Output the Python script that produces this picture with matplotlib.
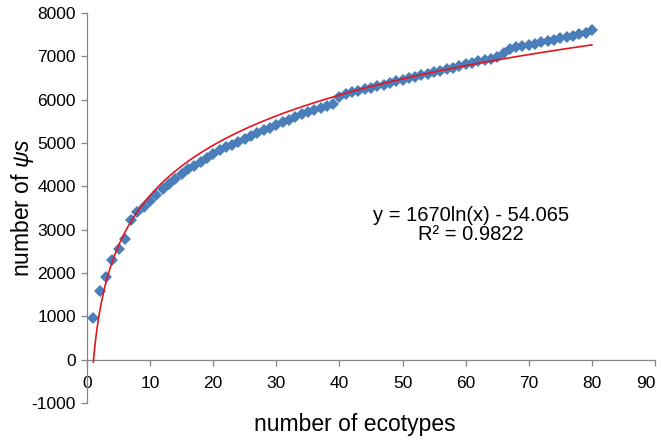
import matplotlib
matplotlib.use("Agg")
import matplotlib.pyplot as plt
import matplotlib.transforms as mtransforms
import numpy as np

plt.rcParams['font.family'] = ['Liberation Sans', 'DejaVu Sans']
plt.rcParams['mathtext.fontset'] = 'custom'
plt.rcParams['mathtext.rm'] = 'Liberation Sans'
plt.rcParams['mathtext.it'] = 'Liberation Sans:italic'
plt.rcParams['axes.unicode_minus'] = False

# number of ecotypes
ecotypes = list(range(1, 81))
# number of psi-s
psis = [960, 1585, 1910, 2290, 2560, 2790, 3225, 3400, 3530, 3660,
        3800, 3930, 4060, 4180, 4290, 4390, 4480, 4570, 4660, 4750,
        4830, 4900, 4960, 5020, 5090, 5150, 5220, 5290, 5350, 5420,
        5480, 5540, 5600, 5660, 5710, 5760, 5810, 5860, 5900, 6070,
        6130, 6170, 6205, 6240, 6275, 6310, 6345, 6385, 6420, 6460,
        6495, 6530, 6565, 6600, 6635, 6670, 6705, 6740, 6785, 6825,
        6855, 6885, 6915, 6945, 6975, 7070, 7170, 7205, 7235, 7265,
        7295, 7325, 7355, 7385, 7415, 7445, 7475, 7510, 7545, 7600]

# logarithmic trendline coefficients
fit_a = 1670.0
fit_b = -54.065
eq_text = "y = 1670ln(x) - 54.065\nR\u00b2 = 0.9822"

x_ticks = list(range(0, 91, 10))
y_ticks = list(range(-1000, 8001, 1000))

fig = plt.figure(figsize=(6.62, 4.42), dpi=100)
ax = fig.add_axes([87/662, 1-403/442, (655-87)/662, (403-13)/442])

gray = '#868686'
ax.plot(ecotypes, psis, linestyle='none', marker='D', markersize=6,
        color='#4A7EBB', markeredgewidth=0, zorder=2)

xf = np.linspace(ecotypes[0], ecotypes[-1], 400)
ax.plot(xf, fit_a*np.log(xf) + fit_b, color='#E3161D', linewidth=1.2, zorder=3)

ax.set_xlim(0, 90)
ax.set_ylim(-1000, 8000)
ax.set_xticks(x_ticks)
ax.set_yticks(y_ticks)

ax.spines['top'].set_visible(False)
ax.spines['right'].set_visible(False)
ax.spines['bottom'].set_position(('data', 0))
for s in ('left', 'bottom'):
    ax.spines[s].set_color(gray)
    ax.spines[s].set_linewidth(0.9)
ax.tick_params(axis='both', colors=gray, labelcolor='black', labelsize=12.5,
               length=4, width=0.9, direction='out')
ax.tick_params(axis='x', pad=8)
ax.tick_params(axis='y', pad=4)

# shift the last x tick label left so it stays inside the figure
last_lbl = ax.xaxis.get_major_ticks()[-1].label1
last_lbl.set_transform(last_lbl.get_transform() +
                       mtransforms.ScaledTranslation(-9/100, 0, fig.dpi_scale_trans))

ax.text(60.8, 3110, eq_text, ha='center', va='center', fontsize=14.5,
        linespacing=1.05)

fig.text(355/662, 1-425/442, 'number of ecotypes', ha='center', va='center',
         fontsize=16.5)
fig.text(22/662, 1-208/442, r'number of $\mathit{\psi s}$', ha='center',
         va='center', rotation=90, fontsize=16.5)

fig.savefig('out.png', dpi=100)
